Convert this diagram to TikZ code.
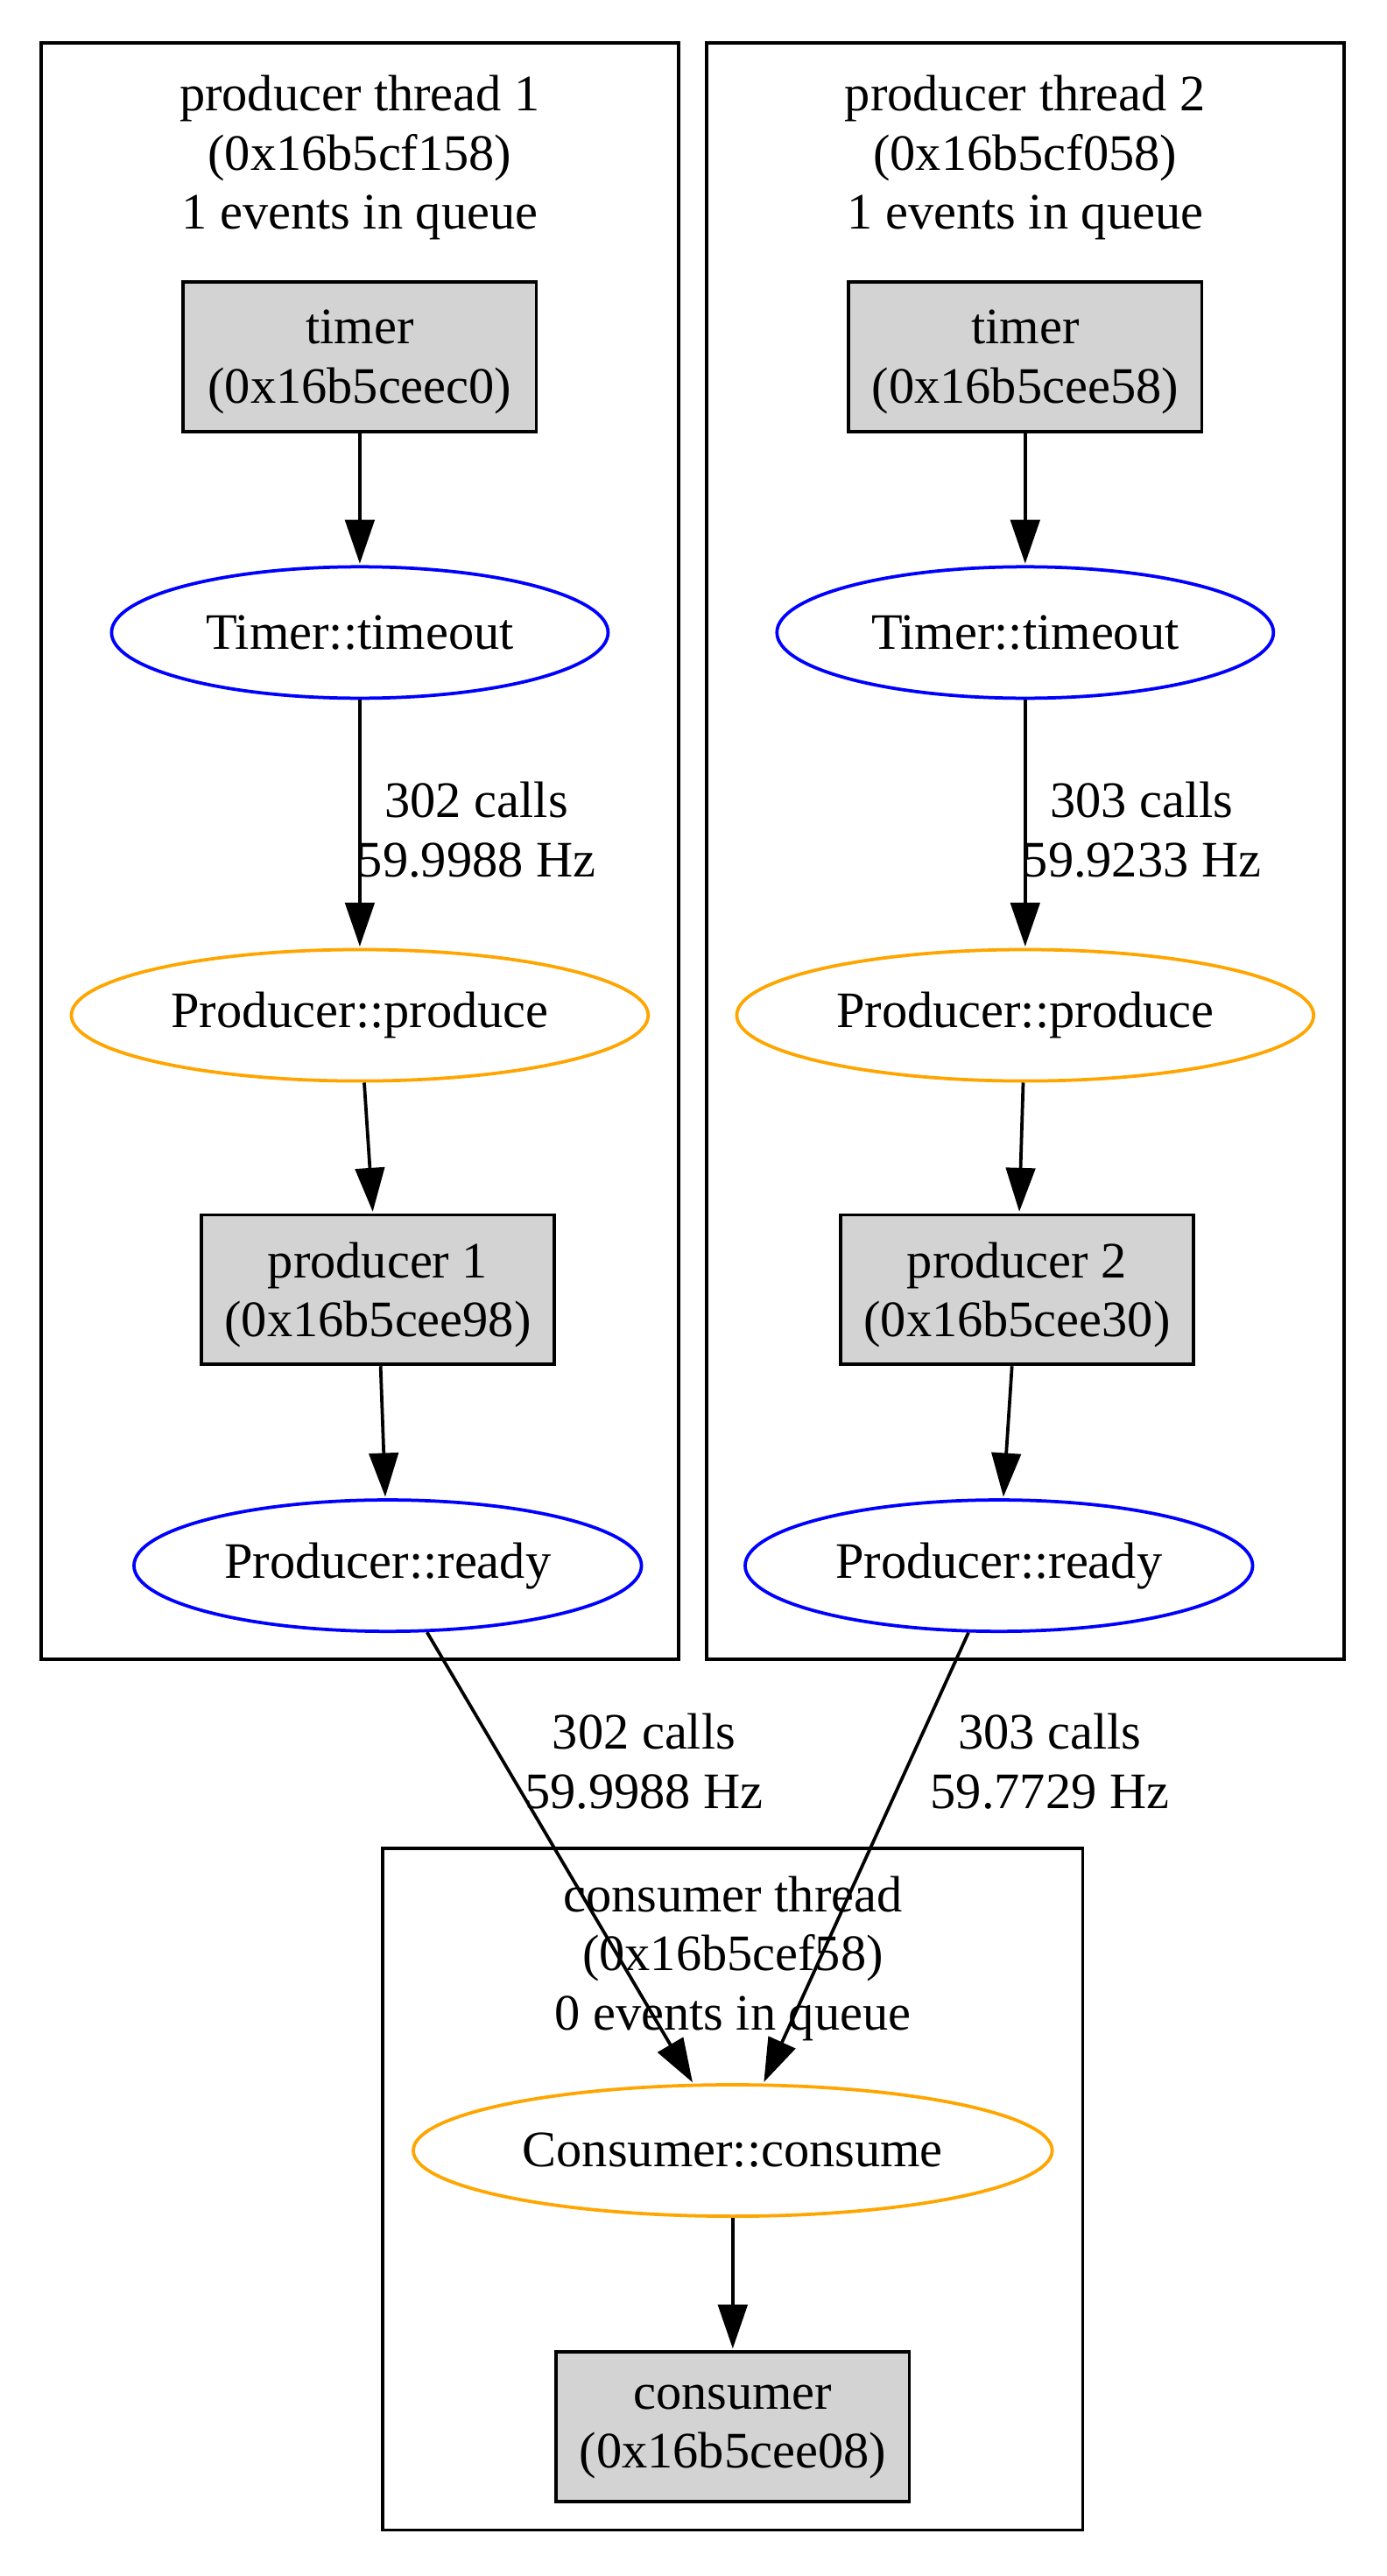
\documentclass[tikz,border=0pt]{standalone}
\usepackage{fontspec}
\setmainfont{Liberation Serif}
\usetikzlibrary{arrows.meta,shapes.geometric}
\definecolor{gvgray}{HTML}{D3D3D3}
\definecolor{gvorange}{HTML}{FFA500}
\definecolor{gvblue}{HTML}{0000FF}
\tikzset{
  gvfont/.style={font=\fontsize{14}{16.2}\selectfont, align=center},
  objbox/.style={gvfont, draw=black, fill=gvgray, line width=0.9pt, rectangle, minimum width=96.75pt, minimum height=41pt, inner sep=0pt, text depth=0pt},
  slotnode/.style={gvfont, draw=gvblue, line width=0.9pt, ellipse, minimum height=36pt, inner sep=0pt},
  sendnode/.style={gvfont, draw=gvorange, line width=0.9pt, ellipse, minimum height=36pt, inner sep=0pt},
  cluster/.style={draw=black, line width=0.9pt},
  elabel/.style={gvfont, inner sep=1pt},
  edge/.style={draw=black, line width=0.9pt, -{Triangle[length=12pt,width=8pt]}, shorten >=0.4pt}
}
\begin{document}
\begin{tikzpicture}[x=0.45pt, y=-0.45pt]
  \useasboundingbox (0,0) rectangle (844,1568);
  % producer threads
  \foreach \k/\cx/\px/\rx/\thr/\tmr/\prd/\nc/\hz in {1/219/230/236/0x16b5cf158/0x16b5ceec0/0x16b5cee98/302/59.9988, 2/624/619/608/0x16b5cf058/0x16b5cee58/0x16b5cee30/303/59.9233} {
    \draw[cluster] ({\cx-194},26) rectangle ({\cx+194},1010);
    \node[gvfont] (thr\k) at (\cx,96) {producer thread \k\\(\thr)\\1 events in queue};
    \node[objbox] (tm\k) at (\cx,217) {timer\\(\tmr)};
    \node[slotnode, minimum width=136pt] (tt\k) at (\cx,385) {Timer::timeout};
    \node[sendnode, minimum width=158pt] (pp\k) at (\cx,618) {Producer::produce};
    \node[objbox] (pr\k) at (\px,785) {producer \k\\(\prd)};
    \node[slotnode, minimum width=139pt] (rd\k) at (\rx,953) {Producer::ready};
    \node[elabel] (lb\k) at ({\cx+71},505) {\nc\ calls\\\hz\ Hz};
    \draw[edge] (tm\k) -- (tt\k);
    \draw[edge] (tt\k) -- (pp\k);
    \draw[edge] (pp\k) -- (pr\k);
    \draw[edge] (pr\k) -- (rd\k);
  }
  % consumer thread
  \draw[cluster] (233,1125) rectangle (659,1540);
  \node[gvfont] (thr3) at (446,1192) {consumer thread\\(0x16b5cef58)\\0 events in queue};
  \node[sendnode, minimum width=175pt] (cc) at (446,1309) {Consumer::consume};
  \node[objbox] (cs) at (446,1477) {consumer\\(0x16b5cee08)};
  \draw[edge] (cc) -- (cs);
  % cross-thread connections
  \node[elabel] (lb3) at (392,1072) {302 calls\\59.9988 Hz};
  \node[elabel] (lb4) at (639,1072) {303 calls\\59.7729 Hz};
  \draw[edge] (rd1) -- (cc);
  \draw[edge] (rd2) -- (cc);
\end{tikzpicture}
\end{document}
